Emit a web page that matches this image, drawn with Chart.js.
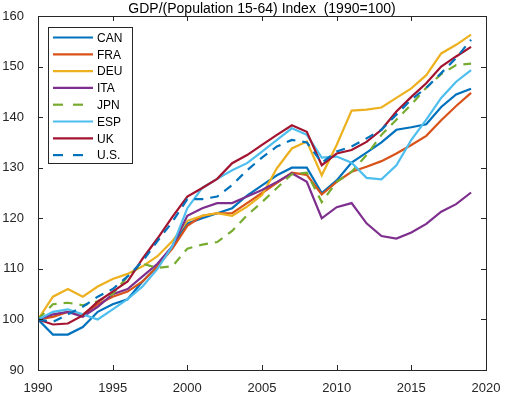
<!DOCTYPE html>
<html>
<head>
<meta charset="utf-8">
<script src="https://cdn.jsdelivr.net/npm/chart.js@4/dist/chart.umd.min.js"></script>
<style>
  html, body { margin: 0; padding: 0; background: #fff; }
</style>
</head>
<body>
<canvas id="myChart" width="507" height="397"></canvas>
<script>
// GDP per working-age person, index 1990 = 100
const years = [1990,1991,1992,1993,1994,1995,1996,1997,1998,1999,2000,2001,2002,2003,2004,2005,2006,2007,2008,2009,2010,2011,2012,2013,2014,2015,2016,2017,2018,2019]

const can = [100,97,97,98.5,101.5,103,104,107.5,110.5,114.5,119,120,121,122,124.5,126.5,128.5,130,130,125,127.5,131,133,135,137.5,138,138.6,142,144.5,145.6]
const fra = [100,100.5,101.5,101,103,104.5,105.5,107.5,110.5,114,118.5,120.5,121,121,123,125,127,129,128.6,124.7,127.2,129.2,130.2,131.3,132.8,134.5,136.3,139.4,142.2,144.8]
const deu = [100,104.5,106,104.5,106.5,108,109,110.5,112.5,115.5,119.5,120.5,121,120.5,122.3,124.6,129.9,133.8,135.2,128.5,134.5,141.3,141.5,141.9,143.8,145.7,148.3,152.6,154.3,156.3]
const ita = [100,101,101.5,100.5,102.5,105,106,108.5,111,114.5,120.5,122,123,123,124.3,125.6,127.2,128.9,127.2,120,122.2,123,119,116.5,116,117.2,118.9,121.3,122.8,125.1]
const jpn = [100,103,103.3,102.8,103.6,105,108.5,111,110.2,110.5,114,114.8,115.3,117.5,120.6,123.2,126,128.7,129,123.2,127.2,129.2,132.5,136.5,139.5,142.5,145.8,148.5,150.3,150.6]
const esp = [100,101.5,102,101,100,102,104,106.5,110,114.5,122,126,127.8,129.5,130.9,133.2,135.5,137.8,136.5,132,132.2,131,128,127.7,130.5,135.5,139.5,143.8,147,149.3]
const uk  = [100,99,99.2,100.8,103.5,105.5,107.5,112,116,120.3,124.3,126,127.8,130.9,132.5,134.5,136.5,138.4,137.1,130.5,132.8,133.5,135.1,137.5,141.1,144,146.7,150,152,153.9]
const us  = [100,99.5,101,102.5,104.5,106,108.5,111.5,115.5,119.3,123.8,123.8,124.3,126.6,129.5,132,134.2,135.5,135,131,133.2,134.2,135.8,137.5,140.5,143.5,145.8,148.7,151.7,155.3]

const names = ["CAN","FRA","DEU","ITA","JPN","ESP","UK","U.S."]
const series = [can, fra, deu, ita, jpn, esp, uk, us]
const colors = ["#0072BD","#D95319","#EDB120","#7E2F8E","#77AC30","#4DBEEE","#A2142F","#0072BD"]
const dashed = [false,false,false,false,true,false,false,true]

const xTicks = [1990,1995,2000,2005,2010,2015,2020]
const yTicks = [90,100,110,120,130,140,150,160]

const FONT = "'Liberation Sans', Arial, sans-serif"
const AXIS = "#262626"

// title, box with inward ticks, legend inside the axes
const matlabLook = {
  id: "matlabLook",
  afterDraw(chart) {
    const ctx = chart.ctx
    const a = chart.chartArea
    const sx = chart.scales.x, sy = chart.scales.y
    ctx.save()

    // title
    ctx.fillStyle = "#000"
    ctx.font = "14px " + FONT
    ctx.textAlign = "center"
    ctx.textBaseline = "alphabetic"
    ctx.fillText("GDP/(Population 15-64) Index  (1990=100)", (a.left + a.right) / 2, 13)

    // box
    ctx.strokeStyle = AXIS
    ctx.lineWidth = 1
    ctx.setLineDash([])
    ctx.strokeRect(Math.round(a.left) + 0.5, Math.round(a.top) + 0.5,
      Math.round(a.right - a.left), Math.round(a.bottom - a.top))

    // inward ticks
    ctx.beginPath()
    xTicks.forEach(v => {
      const px = Math.round(sx.getPixelForValue(v)) + 0.5
      ctx.moveTo(px, a.bottom); ctx.lineTo(px, a.bottom - 5)
      ctx.moveTo(px, a.top); ctx.lineTo(px, a.top + 5)
    })
    yTicks.forEach(v => {
      const py = Math.round(sy.getPixelForValue(v)) + 0.5
      ctx.moveTo(a.left, py); ctx.lineTo(a.left + 5, py)
      ctx.moveTo(a.right, py); ctx.lineTo(a.right - 5, py)
    })
    ctx.stroke()

    // legend
    const lx = a.left + 10, ly = a.top + 11, lw = 84, lh = 136
    ctx.fillStyle = "#fff"
    ctx.fillRect(lx, ly, lw, lh)
    ctx.strokeStyle = AXIS
    ctx.strokeRect(lx + 0.5, ly + 0.5, lw, lh)
    ctx.font = "12px " + FONT
    ctx.textAlign = "left"
    ctx.textBaseline = "middle"
    chart.data.datasets.forEach((ds, i) => {
      const yy = ly + 10.5 + i * 16.8
      ctx.strokeStyle = ds.borderColor
      ctx.lineWidth = 2.2
      ctx.setLineDash(ds.borderDash.length ? [10, 10] : [])
      ctx.beginPath()
      ctx.moveTo(lx + 5, yy); ctx.lineTo(lx + 45, yy)
      ctx.stroke()
      ctx.fillStyle = "#000"
      ctx.fillText(ds.label, lx + 49, yy + 1)
    })
    ctx.restore()
  }
}

const datasets = names.map((n, i) => ({
  label: n,
  data: years.map((yr, k) => ({ x: yr, y: series[i][k] })),
  borderColor: colors[i],
  backgroundColor: colors[i],
  borderWidth: 2.2,
  borderDash: dashed[i] ? [9, 7] : [],
  pointRadius: 0,
  tension: 0,
  fill: false,
  order: names.length - i   // later series on top, like the original plot
}))

const chart = new Chart("myChart", {
  type: "line",
  data: { datasets },
  options: {
    responsive: false,
    animation: false,
    events: [],
    layout: { padding: { top: 16, right: 21, left: 0, bottom: 0 } },
    plugins: {
      legend: { display: false },
      title: { display: false },
      tooltip: { enabled: false }
    },
    scales: {
      x: {
        type: "linear",
        min: 1990, max: 2020,
        afterFit: s => { s.height = 27 },
        afterBuildTicks: s => { s.ticks = xTicks.map(v => ({ value: v })) },
        grid: { display: false },
        border: { display: false },
        ticks: {
          color: AXIS,
          font: { family: FONT, size: 13 },
          padding: 3,
          maxRotation: 0,
          callback: v => String(v)
        }
      },
      y: {
        min: 90, max: 160,
        afterFit: s => { s.width = 38 },
        afterBuildTicks: s => { s.ticks = yTicks.map(v => ({ value: v })) },
        grid: { display: false },
        border: { display: false },
        ticks: {
          color: AXIS,
          font: { family: FONT, size: 13 },
          padding: 6,
          callback: v => String(v)
        }
      }
    }
  },
  plugins: [matlabLook]
})
</script>
</body>
</html>
